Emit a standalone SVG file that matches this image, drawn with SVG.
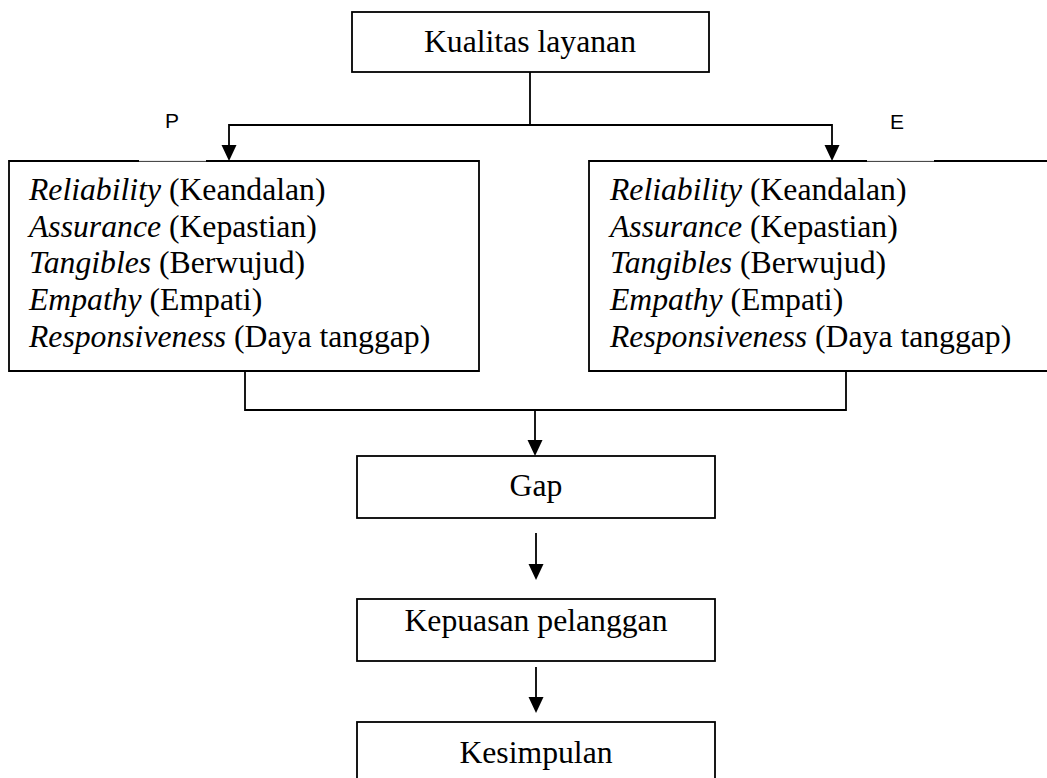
<svg xmlns="http://www.w3.org/2000/svg" width="1047" height="778" viewBox="0 0 1047 778">
<style>
.box{fill:none;stroke:#000;stroke-width:1.8}
.thin{fill:none;stroke:#000;stroke-width:0.8}
.t{font-family:"Liberation Serif","Times New Roman",serif;font-size:31.7px;fill:#000}
.c{text-anchor:middle}
.i{font-style:italic}
.lbl{font-family:"Liberation Sans",Arial,sans-serif;font-size:21px;fill:#000;text-anchor:middle}
.con{fill:none;stroke:#000;stroke-width:1.8}
.head{fill:#000}
</style>
<rect width="1047" height="778" fill="#fff"/>

<g id="connectors">
<path class="con" d="M530,72 V125"/>
<path class="con" d="M530,125 H229 V145"/>
<path class="head" d="M221.5,145 L236.5,145 L229,161 Z"/>
<path class="con" d="M530,125 H832 V145"/>
<path class="head" d="M824.5,145 L839.5,145 L832,161 Z"/>
<path class="con" d="M245,371 V410 H846 V371"/>
<path class="con" d="M535,410 V440"/>
<path class="head" d="M527.5,440 L542.5,440 L535,456 Z"/>
<path class="con" d="M536,533 V564"/>
<path class="head" d="M528.5,564 L543.5,564 L536,580 Z"/>
<path class="con" d="M536,667 V697"/>
<path class="head" d="M528.5,697 L543.5,697 L536,713 Z"/>
</g>

<g id="kualitas">
<rect class="box" x="352" y="12" width="357" height="60"/>
<text class="t c" x="530" y="52">Kualitas layanan</text>
</g>

<g id="label-p">
<text class="lbl" x="172" y="128">P</text>
</g>
<g id="label-e">
<text class="lbl" x="897" y="129">E</text>
</g>

<g id="box-p">
<path class="box" d="M139,161 H9 V371 H479 V161 H206"/>
<path class="thin" d="M139,161.4 H206"/>
<text class="t" x="29" y="200"><tspan class="i">Reliability</tspan> (Keandalan)</text>
<text class="t" x="29" y="236.7"><tspan class="i">Assurance</tspan> (Kepastian)</text>
<text class="t" x="29" y="273.3"><tspan class="i">Tangibles</tspan> (Berwujud)</text>
<text class="t" x="29" y="310"><tspan class="i">Empathy</tspan> (Empati)</text>
<text class="t" x="29" y="346.7"><tspan class="i">Responsiveness</tspan> (Daya tanggap)</text>
</g>

<g id="box-e">
<path class="box" d="M867,161 H589 V371 H1060 M1060,161 H934"/>
<path class="thin" d="M867,161.4 H934"/>
<text class="t" x="610" y="200"><tspan class="i">Reliability</tspan> (Keandalan)</text>
<text class="t" x="610" y="236.7"><tspan class="i">Assurance</tspan> (Kepastian)</text>
<text class="t" x="610" y="273.3"><tspan class="i">Tangibles</tspan> (Berwujud)</text>
<text class="t" x="610" y="310"><tspan class="i">Empathy</tspan> (Empati)</text>
<text class="t" x="610" y="346.7"><tspan class="i">Responsiveness</tspan> (Daya tanggap)</text>
</g>

<g id="gap">
<rect class="box" x="357" y="456" width="358" height="62"/>
<text class="t c" x="536" y="496">Gap</text>
</g>

<g id="kepuasan">
<rect class="box" x="357" y="599" width="358" height="62"/>
<text class="t c" x="536" y="631">Kepuasan pelanggan</text>
</g>

<g id="kesimpulan">
<rect class="box" x="357" y="722" width="358" height="70"/>
<text class="t c" x="536" y="763">Kesimpulan</text>
</g>
</svg>
